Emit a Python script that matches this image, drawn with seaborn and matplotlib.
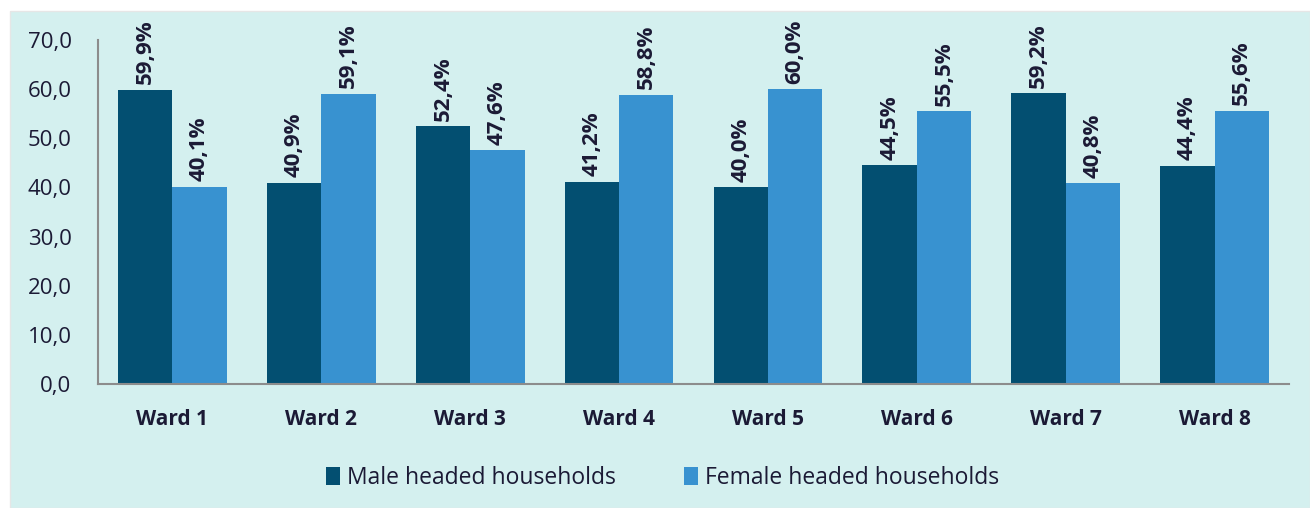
import pandas as pd
import matplotlib.pyplot as plt
import seaborn as sns
from matplotlib.patches import Rectangle

wards = ["Ward 1", "Ward 2", "Ward 3", "Ward 4", "Ward 5", "Ward 6", "Ward 7", "Ward 8"]
male = [59.9, 40.9, 52.4, 41.2, 40.0, 44.5, 59.2, 44.4]
female = [40.1, 59.1, 47.6, 58.8, 60.0, 55.5, 40.8, 55.6]
series = ["Male headed households", "Female headed households"]

df = pd.DataFrame({
    "ward": wards * 2,
    "value": male + female,
    "group": [series[0]] * len(wards) + [series[1]] * len(wards),
})

sns.set_style("white")
plt.rcParams["font.family"] = ["Open Sans", "DejaVu Sans"]
txt = "#1b1a35"
bg = "#d4f0ef"

fig = plt.figure(figsize=(13.1, 5.08), dpi=100, facecolor="white")
# panel background
fig.patches.append(Rectangle((10 / 1310, 0), 1 - 10 / 1310, 1 - 11 / 508,
                             transform=fig.transFigure, facecolor=bg,
                             edgecolor="#e6e6e6", lw=1, zorder=-10))
ax = fig.add_axes([98 / 1310, 1 - 384 / 508, (1289 - 98) / 1310, (384 - 40) / 508])
ax.patch.set_alpha(0)

sns.barplot(data=df, x="ward", y="value", hue="group", ax=ax,
            palette=["#034f71", "#3892d0"], width=0.73, saturation=1,
            edgecolor="none", legend=True)

for cont in ax.containers:
    ax.bar_label(cont, labels=[f"{v:.1f}%".replace(".", ",") for v in cont.datavalues],
                 rotation=90, padding=4, fontsize=16, fontweight="bold", color=txt)

ax.set_ylim(0, 70)
ax.set_xlim(-0.5, 7.5)
ax.set_yticks(range(0, 71, 10))
ax.set_yticklabels([f"{v},0" for v in range(0, 71, 10)], fontsize=16, color=txt)
ax.set_xticks(range(8))
ax.set_xticklabels(wards, fontsize=15, fontweight="bold", color=txt)
ax.tick_params(axis="y", length=0, pad=19)
ax.tick_params(axis="x", length=0, pad=18)
# category boundary ticks
ax.set_xticks([i - 0.5 for i in range(9)], minor=True)
ax.tick_params(axis="x", which="minor", length=7, width=1.5, color="#8c8c8c", direction="out")
ax.set_xlabel("")
ax.set_ylabel("")
for s in ["top", "right"]:
    ax.spines[s].set_visible(False)
for s in ["left", "bottom"]:
    ax.spines[s].set_color("#8c8c8c")
    ax.spines[s].set_linewidth(1.5)

leg = ax.legend(loc="upper center", bbox_to_anchor=(0.474, -0.178), ncol=2, frameon=False,
                fontsize=16.5, handlelength=0.6, handleheight=0.8, columnspacing=3,
                handletextpad=0.3)
for t in leg.get_texts():
    t.set_color(txt)

fig.savefig("out.png", dpi=100, facecolor="white")
